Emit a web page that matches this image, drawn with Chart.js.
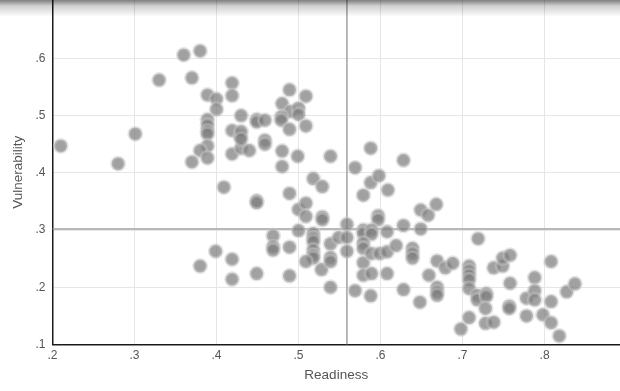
<!DOCTYPE html>
<html>
<head>
<meta charset="utf-8">
<script src="https://cdn.jsdelivr.net/npm/chart.js@4/dist/chart.umd.min.js"></script>
<style>
  body { margin: 0; background: #fff; }
  #wrap { position: relative; width: 620px; height: 391px; }
  #shade {
    position: absolute; left: 0; top: 0; width: 620px; height: 18px; pointer-events: none;
    background: linear-gradient(rgba(0,0,0,0.5) 0px, rgba(0,0,0,0.18) 6px, rgba(0,0,0,0) 17px);
  }
</style>
</head>
<body>
<div id="wrap">
  <canvas id="chart" width="620" height="391"></canvas>
  <div id="shade"></div>
</div>
<script>
const readiness = [
  0.210, 0.280, 0.301, 0.330, 0.360, 0.380, 0.370, 0.389, 0.400, 0.400,
  0.419, 0.419, 0.430, 0.389, 0.389, 0.389, 0.389, 0.419, 0.429, 0.389,
  0.380, 0.389, 0.370, 0.419, 0.430, 0.489, 0.509, 0.480, 0.490, 0.500,
  0.500, 0.449, 0.449, 0.459, 0.479, 0.479, 0.489, 0.509, 0.430, 0.430,
  0.459, 0.459, 0.440, 0.480, 0.480, 0.499, 0.539, 0.569, 0.588, 0.409,
  0.449, 0.449, 0.489, 0.518, 0.529, 0.579, 0.588, 0.598, 0.500, 0.509,
  0.509, 0.529, 0.529, 0.559, 0.597, 0.597, 0.628, 0.609, 0.649, 0.658,
  0.668, 0.628, 0.649, 0.469, 0.469, 0.469, 0.489, 0.500, 0.518, 0.518,
  0.518, 0.518, 0.518, 0.518, 0.509, 0.528, 0.539, 0.539, 0.539, 0.549,
  0.559, 0.559, 0.579, 0.579, 0.589, 0.589, 0.579, 0.579, 0.579, 0.589,
  0.599, 0.608, 0.608, 0.619, 0.639, 0.639, 0.639, 0.579, 0.589, 0.608,
  0.449, 0.489, 0.539, 0.569, 0.588, 0.628, 0.648, 0.659, 0.669, 0.669,
  0.669, 0.669, 0.679, 0.399, 0.419, 0.380, 0.419, 0.698, 0.719, 0.688,
  0.708, 0.708, 0.708, 0.708, 0.708, 0.718, 0.718, 0.729, 0.729, 0.708,
  0.728, 0.728, 0.738, 0.738, 0.749, 0.749, 0.758, 0.758, 0.757, 0.757,
  0.778, 0.788, 0.788, 0.788, 0.778, 0.798, 0.808, 0.808, 0.808, 0.818,
  0.827, 0.837
];
const vulnerability = [
  0.447, 0.416, 0.468, 0.562, 0.606, 0.613, 0.566, 0.536, 0.529, 0.511,
  0.557, 0.535, 0.500, 0.493, 0.483, 0.473, 0.468, 0.474, 0.464, 0.447,
  0.439, 0.426, 0.419, 0.433, 0.443, 0.545, 0.534, 0.521, 0.507, 0.513,
  0.502, 0.493, 0.489, 0.492, 0.498, 0.492, 0.476, 0.482, 0.472, 0.459,
  0.457, 0.450, 0.439, 0.438, 0.411, 0.429, 0.429, 0.409, 0.443, 0.375,
  0.351, 0.348, 0.364, 0.390, 0.376, 0.361, 0.383, 0.395, 0.336, 0.347,
  0.324, 0.323, 0.318, 0.310, 0.325, 0.318, 0.422, 0.370, 0.335, 0.326,
  0.345, 0.308, 0.302, 0.290, 0.271, 0.265, 0.270, 0.299, 0.294, 0.286,
  0.280, 0.265, 0.256, 0.251, 0.245, 0.231, 0.276, 0.252, 0.245, 0.287,
  0.287, 0.263, 0.300, 0.294, 0.300, 0.293, 0.277, 0.268, 0.243, 0.259,
  0.259, 0.297, 0.262, 0.273, 0.268, 0.259, 0.251, 0.221, 0.224, 0.224,
  0.224, 0.220, 0.200, 0.194, 0.185, 0.196, 0.174, 0.221, 0.246, 0.200,
  0.192, 0.186, 0.234, 0.263, 0.249, 0.237, 0.214, 0.127, 0.285, 0.242,
  0.237, 0.229, 0.221, 0.213, 0.198, 0.186, 0.178, 0.189, 0.184, 0.147,
  0.163, 0.137, 0.139, 0.234, 0.237, 0.251, 0.256, 0.207, 0.167, 0.163,
  0.181, 0.217, 0.194, 0.178, 0.150, 0.152, 0.245, 0.175, 0.138, 0.115,
  0.192, 0.206
];

const meanReadiness = 0.559;
const meanVulnerability = 0.302;

const xTicks = [0.2, 0.3, 0.4, 0.5, 0.6, 0.7, 0.8];
const yTicks = [0.1, 0.2, 0.3, 0.4, 0.5, 0.6];
const xRange = [0.2, 0.892];
const yRange = [0.1, 0.702];

const points = readiness.map((r, i) => ({ x: r, y: vulnerability[i] }));

function fmt(v) {
  return v.toFixed(1).replace(/^0/, '');
}

const tickFont = { family: 'Liberation Sans, Arial, sans-serif', size: 12 };
const titleFont = { family: 'Liberation Sans, Arial, sans-serif', size: 13.5 };

new Chart(document.getElementById('chart'), {
  type: 'scatter',
  data: {
    datasets: [
      {
        data: points,
        backgroundColor: 'rgba(125,125,125,0.72)',
        borderColor: 'rgba(200,200,200,0.45)',
        borderWidth: 3,
        pointRadius: 6.5,
        order: 1
      },
      {
        type: 'line',
        data: [{ x: meanReadiness, y: yRange[0] }, { x: meanReadiness, y: yRange[1] }],
        borderColor: '#a0a0a0',
        borderWidth: 1.5,
        pointRadius: 0,
        order: 2
      },
      {
        type: 'line',
        data: [{ x: xRange[0], y: meanVulnerability }, { x: xRange[1], y: meanVulnerability }],
        borderColor: '#a0a0a0',
        borderWidth: 1.5,
        pointRadius: 0,
        order: 2
      }
    ]
  },
  options: {
    responsive: false,
    animation: false,
    layout: { padding: 0, autoPadding: false },
    plugins: {
      legend: { display: false },
      tooltip: { enabled: false }
    },
    scales: {
      x: {
        type: 'linear',
        min: xRange[0],
        max: xRange[1],
        afterBuildTicks: s => { s.ticks = xTicks.map(v => ({ value: v })); },
        afterFit: s => { s.height = 46.5; s.paddingRight = 0; },
        grid: { color: '#e6e6e6', drawTicks: false },
        border: { color: '#1a1a1a', width: 1.5 },
        ticks: { color: '#555', font: tickFont, padding: 4, callback: v => fmt(v) },
        title: {
          display: true, text: 'Readiness', color: '#555', font: titleFont,
          padding: { top: 0, bottom: 7.5 }
        }
      },
      y: {
        type: 'linear',
        min: yRange[0],
        max: yRange[1],
        afterBuildTicks: s => { s.ticks = yTicks.map(v => ({ value: v })); },
        afterFit: s => { s.width = 52.5; s.paddingTop = 0; },
        grid: { color: '#e6e6e6', drawTicks: false },
        border: { color: '#1a1a1a', width: 1.5 },
        ticks: { color: '#555', font: tickFont, padding: 7, callback: v => fmt(v) },
        title: {
          display: true, text: 'Vulnerability', color: '#555', font: titleFont,
          padding: { top: 10, bottom: 0 }
        }
      }
    }
  }
});
</script>
</body>
</html>
